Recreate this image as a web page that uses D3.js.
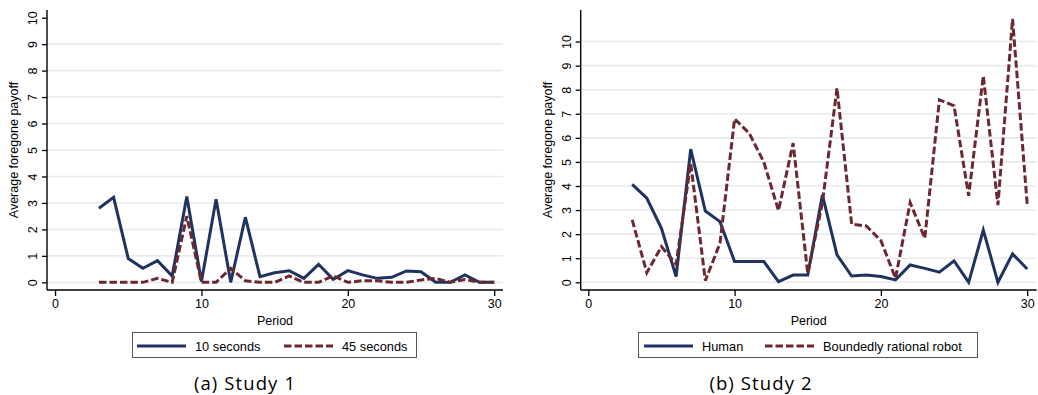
<!DOCTYPE html>
<html>
<head>
<meta charset="utf-8">
<script src="https://cdn.jsdelivr.net/npm/d3@7"></script>
<style>
  body { margin: 0; background: #fff; }
  svg { display: block; }
  text { font-family: "Liberation Sans", Arial, sans-serif; fill: #000; }
  .caption { font-family: "Open Sans", sans-serif; font-size: 18.5px; letter-spacing: 1.1px; }
</style>
</head>
<body>
<svg id="chart" width="1038" height="395"></svg>
<script>
// periods 3..30
const periods = [3,4,5,6,7,8,9,10,11,12,13,14,15,16,17,18,19,20,21,22,23,24,25,26,27,28,29,30];

// Study 1
const tenSeconds = [2.8,3.21,0.9,0.53,0.82,0.24,3.24,0.03,3.14,0,2.46,0.21,0.36,0.44,0.15,0.68,0.11,0.44,0.28,0.15,0.19,0.43,0.4,0,0,0.28,0,0];
const fortyFiveSeconds = [0,0,0,0,0.15,0,2.5,0,0,0.53,0.06,0,0,0.24,0,0,0.24,0,0.06,0.06,0,0,0.09,0.15,0,0.11,0,0];

// Study 2
const human = [4.07,3.49,2.24,0.24,5.53,2.96,2.52,0.86,0.86,0.86,0.03,0.3,0.3,3.63,1.14,0.26,0.3,0.24,0.1,0.72,0.58,0.42,0.89,0,2.17,0,1.18,0.55];
const robot = [2.59,0.4,1.48,0.75,4.94,0.07,1.62,6.79,6.19,4.99,2.98,5.78,0.37,3.3,8.06,2.42,2.34,1.73,0.17,3.31,1.83,7.58,7.33,3.59,8.57,3.21,10.94,3.25];

const xTicks = [0, 10, 20, 30];
const yTicks = [0,1,2,3,4,5,6,7,8,9,10];

const navy = '#1f3361';
const maroon = '#6c2831';

const svg = d3.select('#chart');

function drawPanel(opts) {
  const g = svg.append('g');
  const x = d3.scaleLinear().domain(opts.xDomain).range([opts.left, opts.right]);
  const y = d3.scaleLinear().domain(opts.yDomain).range([opts.bottom, opts.top]);

  // gridlines (none at the top tick if it sits on the edge)
  g.selectAll('line.grid')
    .data(yTicks.filter(v => v < opts.yDomain[1] - 0.5))
    .enter().append('line')
    .attr('x1', opts.left).attr('x2', opts.right)
    .attr('y1', d => y(d)).attr('y2', d => y(d))
    .attr('stroke', '#e6ebee').attr('stroke-width', 1.6);

  const line = d3.line().x((d, i) => x(periods[i])).y(d => y(d));

  opts.series.forEach(s => {
    g.append('path')
      .datum(s.values)
      .attr('d', line)
      .attr('fill', 'none')
      .attr('stroke', s.color)
      .attr('stroke-width', 3)
      .attr('stroke-linejoin', 'miter')
      .attr('stroke-dasharray', s.dash ? '7.5,3' : null);
  });

  // axes
  const yAxis = g.append('g')
    .attr('transform', `translate(${opts.left},0)`)
    .call(d3.axisLeft(y).tickValues(yTicks).tickSize(5).tickSizeOuter(0));
  yAxis.select('.domain').attr('stroke', '#000').attr('stroke-width', 1.4)
    .attr('d', `M0,${opts.top}V${opts.bottom}`);
  yAxis.selectAll('.tick line').attr('stroke-width', 1.3);
  yAxis.selectAll('.tick text')
    .attr('font-size', 12.5)
    .attr('x', null).attr('y', null).attr('dy', null)
    .attr('text-anchor', 'middle')
    .attr('transform', 'translate(-10,0) rotate(-90)');

  const xAxis = g.append('g')
    .attr('transform', `translate(0,${opts.bottom})`)
    .call(d3.axisBottom(x).tickValues(xTicks).tickSize(6).tickPadding(3).tickSizeOuter(0));
  xAxis.select('.domain').attr('stroke', '#000').attr('stroke-width', 1.4)
    .attr('d', `M${opts.left},0H${opts.right}`);
  xAxis.selectAll('.tick line').attr('stroke-width', 1.3);
  xAxis.selectAll('.tick text').attr('font-size', 12.5);

  // axis titles
  g.append('text')
    .attr('transform', `translate(${opts.left - 29},${(opts.top + opts.bottom) / 2}) rotate(-90)`)
    .attr('text-anchor', 'middle')
    .attr('font-size', 12.5)
    .text('Average foregone payoff');
  g.append('text')
    .attr('x', (opts.left + opts.right) / 2).attr('y', 325)
    .attr('text-anchor', 'middle')
    .attr('font-size', 12.5)
    .text('Period');

  // legend
  const lg = g.append('g');
  lg.append('rect')
    .attr('x', opts.legend.x).attr('y', 332.5)
    .attr('width', opts.legend.w).attr('height', 25)
    .attr('fill', '#fff').attr('stroke', '#555').attr('stroke-width', 1);
  opts.series.forEach((s, i) => {
    const lx = opts.legend.items[i];
    lg.append('line')
      .attr('x1', lx).attr('x2', lx + 49)
      .attr('y1', 346).attr('y2', 346)
      .attr('stroke', s.color).attr('stroke-width', 3)
      .attr('stroke-dasharray', s.dash ? '7.5,3' : null);
    lg.append('text')
      .attr('x', lx + 58).attr('y', 350.5)
      .attr('font-size', 12.8)
      .text(s.name);
  });

  svg.append('text')
    .attr('class', 'caption')
    .attr('x', opts.caption.x).attr('y', 390)
    .attr('text-anchor', 'middle')
    .text(opts.caption.text);
}

drawPanel({
  left: 47, right: 503, top: 10, bottom: 290,
  xDomain: [-0.55, 30.6], yDomain: [-0.29, 10.29],
  series: [
    { name: '10 seconds', values: tenSeconds, color: navy, dash: false },
    { name: '45 seconds', values: fortyFiveSeconds, color: maroon, dash: true }
  ],
  legend: { x: 132.5, w: 284, items: [137, 284] },
  caption: { x: 245, text: '(a) Study 1' }
});

drawPanel({
  left: 580.7, right: 1036.7, top: 10, bottom: 290,
  xDomain: [-0.52, 30.65], yDomain: [-0.32, 11.31],
  series: [
    { name: 'Human', values: human, color: navy, dash: false },
    { name: 'Boundedly rational robot', values: robot, color: maroon, dash: true }
  ],
  legend: { x: 638.5, w: 339, items: [644, 765] },
  caption: { x: 761, text: '(b) Study 2' }
});
</script>
</body>
</html>
